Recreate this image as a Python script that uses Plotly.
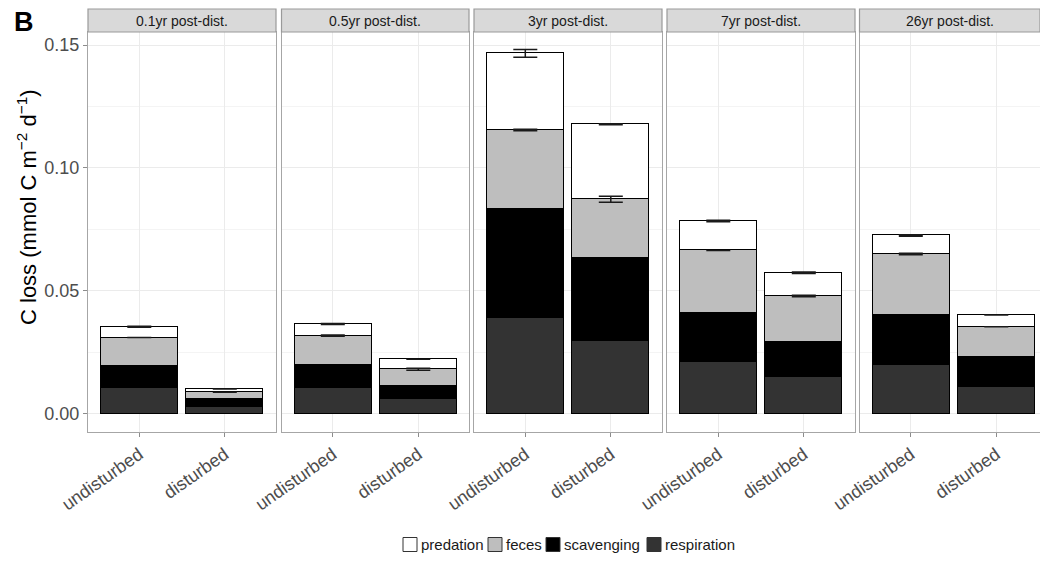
import numpy as np
import plotly.graph_objects as go
from plotly.subplots import make_subplots

# Sampling periods after disturbance (one facet each) and site treatments
periods = ["0.1yr post-dist.", "0.5yr post-dist.", "3yr post-dist.", "7yr post-dist.", "26yr post-dist."]
sites = ["undisturbed", "disturbed"]

# Carbon loss pathways (mmol C m-2 d-1), per period: [undisturbed, disturbed]
respiration = [[0.0103, 0.0025], [0.0105, 0.0059], [0.0390, 0.0296], [0.0211, 0.0150], [0.0197, 0.0109]]
scavenging = [[0.0090, 0.0033], [0.0092, 0.0054], [0.0442, 0.0338], [0.0199, 0.0142], [0.0205, 0.0121]]
feces = [[0.0116, 0.0028], [0.0120, 0.0067], [0.0322, 0.0238], [0.0254, 0.0186], [0.0247, 0.0123]]
predation = [[0.0044, 0.0014], [0.0047, 0.0041], [0.0312, 0.0305], [0.0120, 0.0095], [0.0076, 0.0048]]

# Standard errors shown at the top of the feces and predation segments
feces_se = [[0.0000, 0.0000], [0.0003, 0.0004], [0.0003, 0.0012], [0.0000, 0.0003], [0.0003, 0.0000]]
predation_se = [[0.0002, 0.0000], [0.0002, 0.0000], [0.0016, 0.0002], [0.0003, 0.0003], [0.0003, 0.0000]]

# Stacking order bottom -> top, with fills
layers = [
    ("respiration", respiration, "#333333"),
    ("scavenging", scavenging, "#000000"),
    ("feces", feces, "#bebebe"),
    ("predation", predation, "#ffffff"),
]
legend_order = ["predation", "feces", "scavenging", "respiration"]

W, H = 1040, 563
FONT = "Liberation Sans, Arial, sans-serif"

# Panel pixel extents (left, right) and vertical extent of the plotting area
panel_px = [(88, 276), (281.5, 469), (474, 662), (667, 855), (859.5, 1040)]
unit_px = 85.5  # px per discrete x unit
plot_top, plot_bottom = 32, 432
strip_top = 9

fig = make_subplots(rows=1, cols=5, shared_yaxes=True)

for p in range(len(periods)):
    for name, vals, color in layers:
        fig.add_trace(
            go.Bar(
                x=sites, y=vals[p], name=name, marker_color=color,
                marker_line_color="#000000", marker_line_width=1,
                width=0.9, showlegend=False,
            ),
            row=1, col=p + 1,
        )
    cum = np.cumsum(np.array([respiration[p], scavenging[p], feces[p], predation[p]]), axis=0)
    for top, se in ((cum[2], feces_se[p]), (cum[3], predation_se[p])):
        fig.add_trace(
            go.Scatter(
                x=sites, y=top, mode="markers",
                marker=dict(size=1, color="rgba(0,0,0,0)"),
                error_y=dict(type="data", array=se, visible=True,
                             color="#1a1a1a", thickness=1.5, width=12),
                showlegend=False, hoverinfo="skip",
            ),
            row=1, col=p + 1,
        )

fig.update_layout(barmode="stack")

y_dom = [1 - plot_bottom / H, 1 - plot_top / H]
zero_px, top_tick_px = 413.5, 45
px_per_unit = (zero_px - top_tick_px) / 0.15
y_range = [-(plot_bottom - zero_px) / px_per_unit, (zero_px - plot_top) / px_per_unit]

shapes, annotations = [], []
for i, (l, r) in enumerate(panel_px):
    suffix = "" if i == 0 else str(i + 1)
    d0, d1 = l / W, r / W
    n_units = (r - l) / unit_px
    fig.layout["xaxis" + suffix].update(
        domain=[d0, d1], range=[-0.6, -0.6 + n_units], type="category",
        showgrid=True, gridcolor="#ebebeb", gridwidth=1,
        showline=True, linecolor="#a6a6a6", linewidth=1.2, mirror=True,
        ticks="outside", ticklen=4, tickcolor="#8c8c8c", tickangle=-35,
        tickfont=dict(family=FONT, size=18, color="#4d4d4d"),
        zeroline=False, automargin=False, fixedrange=True,
    )
    fig.layout["yaxis" + suffix].update(
        domain=y_dom, range=y_range,
        tickvals=[0, 0.05, 0.10, 0.15], ticktext=["0.00", "0.05", "0.10", "0.15"],
        showticklabels=(i == 0),
        ticks="outside" if i == 0 else "", ticklen=4, tickcolor="#8c8c8c",
        tickfont=dict(family=FONT, size=18, color="#4d4d4d"),
        showgrid=True, gridcolor="#ebebeb", gridwidth=1,
        minor=dict(tick0=0, dtick=0.025, showgrid=True, gridcolor="#f4f4f4", gridwidth=0.6),
        showline=True, linecolor="#a6a6a6", linewidth=1.2, mirror=True,
        zeroline=False, automargin=False, fixedrange=True,
    )
    # facet strip
    shapes.append(dict(
        type="rect", xref="paper", yref="paper",
        x0=d0, x1=d1, y0=1 - plot_top / H, y1=1 - strip_top / H,
        fillcolor="#d9d9d9", line=dict(color="#9a9a9a", width=1.2), layer="above",
    ))
    annotations.append(dict(
        text=periods[i], xref="paper", yref="paper",
        x=(l + min(r, l + 2.2 * unit_px)) / 2 / W, y=1 - (strip_top + plot_top) / 2 / H,
        showarrow=False, xanchor="center", yanchor="middle",
        font=dict(family=FONT, size=14, color="#1a1a1a"),
    ))

# Legend row beneath the panels: key box followed by its label
fills = {name: color for name, _, color in layers}
key_left = [403, 488, 546, 647]  # px, left edge of each key box
key_size, key_y = 14, 544.5
for name, kx in zip(legend_order, key_left):
    shapes.append(dict(
        type="rect", xref="paper", yref="paper",
        x0=kx / W, x1=(kx + key_size) / W,
        y0=1 - (key_y + key_size / 2) / H, y1=1 - (key_y - key_size / 2) / H,
        fillcolor=fills[name], line=dict(color="#333333", width=1),
    ))
    annotations.append(dict(
        text=name, xref="paper", yref="paper",
        x=(kx + key_size + 2) / W, y=1 - key_y / H,
        showarrow=False, xanchor="left", yanchor="middle",
        font=dict(family=FONT, size=15, color="#1a1a1a"),
    ))

annotations.append(dict(
    text="C loss (mmol C m<sup>−2</sup> d<sup>−1</sup>)", xref="paper", yref="paper",
    x=27 / W, y=1 - 207 / H, textangle=-90, showarrow=False,
    xanchor="center", yanchor="middle",
    font=dict(family=FONT, size=22, color="#000000"),
))
annotations.append(dict(
    text="<b>B</b>", xref="paper", yref="paper", x=24 / W, y=1 - 22 / H,
    showarrow=False, xanchor="center", yanchor="middle",
    font=dict(family=FONT, size=27, color="#000000"),
))

fig.update_layout(
    width=W, height=H,
    margin=dict(l=0, r=0, t=0, b=0),
    paper_bgcolor="#ffffff", plot_bgcolor="#ffffff",
    shapes=shapes, annotations=annotations,
    showlegend=False,
    bargap=0,
    font=dict(family=FONT),
)

fig.write_html("out.html")
